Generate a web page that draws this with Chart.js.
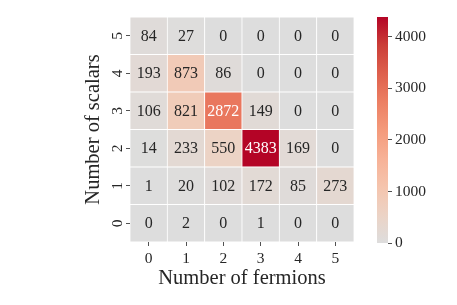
<!DOCTYPE html>
<html>
<head>
<meta charset="utf-8">
<script src="https://cdn.jsdelivr.net/npm/chart.js@4"></script>
<style>
  html, body { margin: 0; padding: 0; background: #fff; }
  #wrap { position: relative; width: 457px; height: 305px; }
  #heat { position: absolute; left: 0; top: 0; }
  #cbar { position: absolute; left: 360px; top: 0; }
</style>
</head>
<body>
<div id="wrap">
  <canvas id="heat" width="457" height="305"></canvas>
  <canvas id="cbar" width="97" height="305"></canvas>
</div>
<script>
// axis categories
const fermionLabels = ['0', '1', '2', '3', '4', '5'];
const scalarLabels = ['0', '1', '2', '3', '4', '5'];

// counts per number of scalars (one array per row, columns = number of fermions)
const scalars0 = [0, 2, 0, 1, 0, 0];
const scalars1 = [1, 20, 102, 172, 85, 273];
const scalars2 = [14, 233, 550, 4383, 169, 0];
const scalars3 = [106, 821, 2872, 149, 0, 0];
const scalars4 = [193, 873, 86, 0, 0, 0];
const scalars5 = [84, 27, 0, 0, 0, 0];

const colorbarTicks = [0, 1000, 2000, 3000, 4000];

const rows = [scalars0, scalars1, scalars2, scalars3, scalars4, scalars5];
const vmax = Math.max(...rows.flat());

const FONT = 'Liberation Serif';
const INK = '#262626';

// upper half of coolwarm (gray -> red)
const stops = [
  [0.0, 221, 221, 221],
  [0.125, 236, 211, 197],
  [0.25, 245, 196, 173],
  [0.375, 247, 177, 150],
  [0.5, 244, 154, 123],
  [0.625, 236, 127, 99],
  [0.75, 222, 96, 77],
  [0.875, 203, 62, 56],
  [1.0, 180, 4, 38]
];

function cmapRGB(t) {
  t = Math.max(0, Math.min(1, t));
  for (let i = 1; i < stops.length; i++) {
    if (t <= stops[i][0]) {
      const a = stops[i - 1], b = stops[i];
      const f = (t - a[0]) / (b[0] - a[0]);
      return [0, 1, 2].map(k => Math.round(a[k + 1] + f * (b[k + 1] - a[k + 1])));
    }
  }
  return stops[stops.length - 1].slice(1);
}
const rgbStr = c => `rgb(${c[0]},${c[1]},${c[2]})`;

function luminance(c) {
  const lin = c.map(v => {
    v /= 255;
    return v <= 0.03928 ? v / 12.92 : Math.pow((v + 0.055) / 1.055, 2.4);
  });
  return 0.2126 * lin[0] + 0.7152 * lin[1] + 0.0722 * lin[2];
}

const datasets = rows.map((row, r) => ({
  label: 'scalars ' + scalarLabels[r],
  data: row.map(() => 1),
  counts: row,
  backgroundColor: row.map(v => rgbStr(cmapRGB(v / vmax))),
  textColor: row.map(v => luminance(cmapRGB(v / vmax)) > 0.408 ? INK : '#ffffff'),
  borderColor: '#ffffff',
  borderWidth: 0.75,
  borderSkipped: false,
  barPercentage: 1,
  categoryPercentage: 1
}));

// cell numbers + rotated y tick labels
const annotate = {
  id: 'annotate',
  afterDatasetsDraw(chart) {
    const ctx = chart.ctx;
    ctx.save();
    ctx.font = `16px "${FONT}"`;
    ctx.textAlign = 'center';
    ctx.textBaseline = 'middle';
    chart.data.datasets.forEach((ds, di) => {
      chart.getDatasetMeta(di).data.forEach((bar, i) => {
        ctx.fillStyle = ds.textColor[i];
        ctx.fillText(String(ds.counts[i]), bar.x, (bar.y + bar.base) / 2 + 1);
      });
    });
    const ys = chart.scales.y;
    ctx.font = `15.5px "${FONT}"`;
    ctx.fillStyle = INK;
    ys.ticks.forEach((t, i) => {
      const py = ys.getPixelForValue(t.value);
      ctx.save();
      ctx.translate(chart.chartArea.left - 12.5, py);
      ctx.rotate(-Math.PI / 2);
      ctx.fillText(scalarLabels[i], 0, 0);
      ctx.restore();
    });
    ctx.restore();
  }
};

new Chart(document.getElementById('heat'), {
  type: 'bar',
  data: { labels: fermionLabels, datasets },
  options: {
    responsive: false,
    animation: false,
    events: [],
    layout: { padding: { left: 81, right: 103, top: 17, bottom: 14 } },
    plugins: { legend: { display: false }, tooltip: { enabled: false } },
    scales: {
      x: {
        stacked: true,
        grid: { offset: false, drawOnChartArea: false, tickLength: 4, color: INK, lineWidth: 0.8 },
        border: { display: false },
        ticks: { color: INK, font: { family: FONT, size: 15.5 }, padding: 4 },
        title: { display: true, text: 'Number of fermions', color: INK, font: { family: FONT, size: 20.5 }, padding: 0 },
        afterFit: s => { s.height = 305 - 14 - 242; }
      },
      y: {
        stacked: true,
        min: 0,
        max: scalarLabels.length,
        afterBuildTicks: s => { s.ticks = scalarLabels.map((l, i) => ({ value: i + 0.5 })); },
        grid: { drawOnChartArea: false, tickLength: 4, color: INK, lineWidth: 0.8 },
        border: { display: false },
        ticks: { display: false },
        title: { display: true, text: 'Number of scalars', color: INK, font: { family: FONT, size: 20.5 }, padding: 0 },
        afterFit: s => { s.width = 49; }
      }
    }
  },
  plugins: [annotate]
});

// colorbar
new Chart(document.getElementById('cbar'), {
  type: 'bar',
  data: {
    labels: ['scale'],
    datasets: [{
      data: [[0, vmax]],
      barPercentage: 1,
      categoryPercentage: 1,
      borderWidth: 0,
      backgroundColor: ctx => {
        const area = ctx.chart.chartArea;
        if (!area) return 'rgb(221,221,221)';
        const g = ctx.chart.ctx.createLinearGradient(0, area.bottom, 0, area.top);
        stops.forEach(s => g.addColorStop(s[0], rgbStr(s.slice(1))));
        return g;
      }
    }]
  },
  options: {
    responsive: false,
    animation: false,
    events: [],
    layout: { padding: { left: 17, right: 0, top: 17, bottom: 62 } },
    plugins: { legend: { display: false }, tooltip: { enabled: false } },
    scales: {
      x: { display: false },
      y: {
        position: 'right',
        min: 0,
        max: vmax,
        afterBuildTicks: s => { s.ticks = colorbarTicks.map(v => ({ value: v })); },
        grid: { drawOnChartArea: false, tickLength: 4, color: INK, lineWidth: 0.8 },
        border: { display: false },
        ticks: { color: INK, font: { family: FONT, size: 15.5 }, padding: 3, callback: v => String(v) },
        afterFit: s => { s.width = 69; }
      }
    }
  }
});
</script>
</body>
</html>
